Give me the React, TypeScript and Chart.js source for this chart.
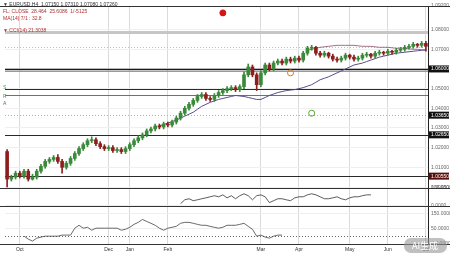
import React, { useEffect, useRef } from 'react';
import { Chart, registerables } from 'chart.js';
Chart.register(...registerables);

// ---- data (EURUSD H4) ----
const opens = [1.0180,1.0040,1.0050,1.0070,1.0055,1.0080,1.0040,1.0050,1.0080,1.0105,
 1.0130,1.0140,1.0150,1.0130,1.0100,1.0120,1.0145,1.0170,1.0195,1.0215,
 1.0235,1.0240,1.0220,1.0205,1.0195,1.0200,1.0185,1.0190,1.0180,1.0195,
 1.0215,1.0235,1.0250,1.0265,1.0285,1.0295,1.0310,1.0305,1.0320,1.0315,
 1.0330,1.0350,1.0375,1.0400,1.0420,1.0440,1.0460,1.0470,1.0450,1.0445,
 1.0465,1.0480,1.0490,1.0500,1.0505,1.0495,1.0510,1.0570,1.0610,1.0570,
 1.0520,1.0580,1.0620,1.0600,1.0630,1.0640,1.0630,1.0650,1.0640,1.0655,
 1.0645,1.0680,1.0705,1.0710,1.0680,1.0670,1.0680,1.0665,1.0650,1.0645,
 1.0655,1.0670,1.0660,1.0650,1.0655,1.0670,1.0675,1.0665,1.0680,1.0685,
 1.0680,1.0690,1.0685,1.0695,1.0700,1.0710,1.0715,1.0725,1.0720,1.0730];
const closes = [1.0040,1.0050,1.0070,1.0055,1.0080,1.0040,1.0050,1.0080,1.0105,1.0130,
 1.0140,1.0150,1.0130,1.0100,1.0120,1.0145,1.0170,1.0195,1.0215,1.0235,
 1.0240,1.0220,1.0205,1.0195,1.0200,1.0185,1.0190,1.0180,1.0195,1.0215,
 1.0235,1.0250,1.0265,1.0285,1.0295,1.0310,1.0305,1.0320,1.0315,1.0330,
 1.0350,1.0375,1.0400,1.0420,1.0440,1.0460,1.0470,1.0450,1.0445,1.0465,
 1.0480,1.0490,1.0500,1.0505,1.0495,1.0510,1.0570,1.0610,1.0570,1.0520,
 1.0580,1.0620,1.0600,1.0630,1.0640,1.0630,1.0650,1.0640,1.0655,1.0645,
 1.0680,1.0705,1.0710,1.0680,1.0670,1.0680,1.0665,1.0650,1.0645,1.0655,
 1.0670,1.0660,1.0650,1.0655,1.0670,1.0675,1.0665,1.0680,1.0685,1.0680,
 1.0690,1.0685,1.0695,1.0700,1.0710,1.0715,1.0725,1.0720,1.0730,1.0715];
const highs = [1.0190,1.0060,1.0080,1.0080,1.0090,1.0090,1.0065,1.0090,1.0115,1.0140,
 1.0150,1.0160,1.0165,1.0140,1.0130,1.0155,1.0180,1.0205,1.0225,1.0245,
 1.0255,1.0250,1.0230,1.0215,1.0210,1.0210,1.0200,1.0200,1.0205,1.0225,
 1.0245,1.0260,1.0275,1.0295,1.0305,1.0320,1.0320,1.0330,1.0330,1.0340,
 1.0360,1.0385,1.0410,1.0430,1.0450,1.0470,1.0480,1.0480,1.0460,1.0475,
 1.0490,1.0500,1.0510,1.0515,1.0515,1.0520,1.0585,1.0625,1.0620,1.0580,
 1.0590,1.0630,1.0630,1.0640,1.0650,1.0650,1.0660,1.0660,1.0665,1.0665,
 1.0690,1.0715,1.0720,1.0715,1.0690,1.0690,1.0685,1.0675,1.0660,1.0665,
 1.0680,1.0675,1.0670,1.0665,1.0680,1.0685,1.0680,1.0690,1.0695,1.0690,
 1.0700,1.0695,1.0705,1.0710,1.0720,1.0725,1.0735,1.0730,1.0740,1.0740];
const lows = [1.0000,1.0030,1.0040,1.0045,1.0045,1.0030,1.0035,1.0040,1.0070,1.0095,
 1.0120,1.0130,1.0120,1.0070,1.0090,1.0110,1.0135,1.0160,1.0185,1.0205,
 1.0225,1.0210,1.0195,1.0185,1.0185,1.0175,1.0175,1.0170,1.0170,1.0185,
 1.0205,1.0225,1.0240,1.0255,1.0275,1.0285,1.0295,1.0295,1.0305,1.0305,
 1.0320,1.0340,1.0365,1.0390,1.0410,1.0430,1.0450,1.0440,1.0435,1.0435,
 1.0455,1.0470,1.0480,1.0490,1.0485,1.0485,1.0500,1.0560,1.0560,1.0490,
 1.0510,1.0570,1.0590,1.0590,1.0620,1.0620,1.0620,1.0630,1.0630,1.0635,
 1.0635,1.0670,1.0695,1.0670,1.0660,1.0660,1.0655,1.0640,1.0635,1.0635,
 1.0645,1.0650,1.0640,1.0640,1.0645,1.0660,1.0655,1.0655,1.0670,1.0670,
 1.0670,1.0675,1.0675,1.0685,1.0690,1.0700,1.0705,1.0710,1.0710,1.0690];

const ma1Start = 36;
const ma1Values = [1.0310,1.03175,1.0325,1.03325,1.0340,1.0350,1.0360,1.0370,1.0380,1.0395,
 1.0410,1.0420,1.0430,1.04375,1.0445,1.0450,1.0455,1.0460,1.0465,1.04625,
 1.0460,1.0455,1.0450,1.0445,1.0445,1.0455,1.0465,1.04725,1.0480,1.0485,
 1.0490,1.04925,1.0495,1.0500,1.0505,1.05125,1.0520,1.05325,1.0545,1.05525,
 1.0560,1.0570,1.0580,1.0590,1.0600,1.0610,1.0620,1.0625,1.0630,1.06375,
 1.0645,1.06525,1.0660,1.0665,1.0670,1.0675,1.0680,1.06825,1.0685,1.06875,
 1.0690,1.06925,1.0695,1.06975];
const ma2Start = 71;
const ma2Values = [1.0695,1.0700,1.0705,1.0710,1.07125,1.0715,1.07175,1.0720,1.0720,1.0720,
 1.0720,1.0720,1.07175,1.0715,1.0715,1.0715,1.07125,1.0710,1.0710,1.0710,
 1.07075,1.0705,1.0705,1.0705,1.07025,1.0700,1.0700,1.06975,1.0695];

const osc1Start = 41;
const osc1Values = [11,33,39,28,33,39,44,50,56,50,
 61,44,56,39,56,67,56,33,56,61,
 50,17,28,39,39,33,28,44,50,50,
 61,67,61,50,39,39,44,50,39,33,
 44,50,50,56,61,61];
const osc2Start = 4;
const osc2Values = [1,-18,-31,-12,-5,1,1,1,1,8,
 8,8,53,72,53,59,40,53,53,53,
 53,53,53,40,46,59,78,91,110,97,
 85,72,53,40,53,59,65,85,91,91,
 85,78,72,72,65,59,53,59,72,72,
 72,78,85,65,46,1,8,-5,-12,1,
 8,8];

const tickIndex = [3, 24, 29, 38, 60, 69, 81, 90, 99];
const tickLabels = ['Oct', 'Dec', 'Jan', 'Feb', 'Mar', 'Apr', 'May', 'Jun', 'Jul'];

const levelPrices = [1.0790, 1.0710, 1.0600, 1.0590, 1.0500, 1.0465, 1.0365, 1.0265, 1.0055];
const boxedPrices = [1.0600, 1.0365, 1.0265, 1.0055];
const markerIndex = [51, 67, 72];
const markerPrices = [1.0885, 1.0580, 1.0375];

const legendLines = [
  '▼ EURUSD,H4  1.07150 1.07310 1.07080 1.07260',
  'FL: CLOSE  28.464  25.6086  1/-5125',
  'MA(14) 7/1 : 32.8',
  '▼ CCI(14) 21.3038',
];

// ---- styles ----
const BULL = '#3b8a3b';
const BEAR = '#8e1f1f';
const levelStyles = [
  { color: '#c6c6c6', width: 3, dash: [] as number[] },
  { color: '#bdbdbd', width: 1, dash: [1, 2] },
  { color: '#1a1a1a', width: 1.5, dash: [] },
  { color: '#9a9a9a', width: 1, dash: [] },
  { color: '#2a2a2a', width: 1.2, dash: [] },
  { color: '#707070', width: 1, dash: [] },
  { color: '#b0b0b0', width: 1, dash: [1, 2] },
  { color: '#2a2a2a', width: 1.2, dash: [] },
  { color: '#2a2a2a', width: 1.2, dash: [] },
];
const FONT = "'Liberation Sans', Arial, sans-serif";

const overlay = {
  id: 'overlay',
  beforeDatasetsDraw(chart: any) {
    const { ctx, chartArea: ca, scales } = chart;
    ctx.save();
    levelPrices.forEach((p, k) => {
      const st = levelStyles[k];
      const py = Math.round(scales.y.getPixelForValue(p)) + 0.5;
      ctx.strokeStyle = st.color;
      ctx.lineWidth = st.width;
      ctx.setLineDash(st.dash);
      ctx.beginPath();
      ctx.moveTo(ca.left, py);
      ctx.lineTo(ca.right, py);
      ctx.stroke();
    });
    // zero line of lower oscillator
    const zy = Math.round(scales.y2.getPixelForValue(0)) + 0.5;
    ctx.strokeStyle = '#666';
    ctx.lineWidth = 1;
    ctx.setLineDash([1, 2]);
    ctx.beginPath();
    ctx.moveTo(ca.left, zy);
    ctx.lineTo(ca.right, zy);
    ctx.stroke();
    ctx.restore();
  },
  afterDraw(chart: any) {
    const { ctx, chartArea: ca, scales, width } = chart;
    ctx.save();
    // pane borders
    ctx.strokeStyle = '#333';
    ctx.lineWidth = 1;
    ctx.setLineDash([]);
    [scales.y.top, scales.y.bottom, scales.y1.bottom, scales.y2.bottom].forEach((b: number) => {
      const yy = Math.round(b) + 0.5;
      ctx.beginPath();
      ctx.moveTo(0, yy);
      ctx.lineTo(width, yy);
      ctx.stroke();
    });
    // boxed price labels on axis
    ctx.font = `5px ${FONT}`;
    ctx.textBaseline = 'middle';
    boxedPrices.forEach((p, k) => {
      const py = scales.y.getPixelForValue(p);
      ctx.fillStyle = k === boxedPrices.length - 1 ? '#5a0f0f' : '#111';
      ctx.fillRect(ca.right + 1, py - 3.5, width - ca.right - 2, 7);
      ctx.fillStyle = '#fff';
      ctx.fillText(p.toFixed(5), ca.right + 3, py);
    });
    // legend text
    const ys = [5, 12, 19, 31];
    legendLines.forEach((t, k) => {
      ctx.fillStyle = k === 0 ? '#333' : '#b03030';
      ctx.fillText(t, 3, ys[k]);
    });
    // left markers
    ctx.fillStyle = '#4a9a4a';
    ctx.fillText('S', 3, 88);
    ctx.fillText('R', 3, 97);
    ctx.fillStyle = '#666';
    ctx.fillText('A', 3, 104);
    // watermark
    ctx.fillStyle = 'rgba(150,150,150,0.6)';
    ctx.beginPath();
    (ctx as any).roundRect(404, 238, 43, 15, 7);
    ctx.fill();
    ctx.fillStyle = '#ffffff';
    ctx.font = `9px 'Noto Sans CJK SC', sans-serif`;
    ctx.fillText('AI生成', 412, 245.5);
    ctx.restore();
  },
};

export default function App() {
  const ref = useRef<HTMLCanvasElement>(null);
  useEffect(() => {
    const canvas = ref.current!;
    const labels = closes.map((_, i) => String(i));
    const pad = (start: number, vals: number[]) =>
      labels.map((_, i) => (i >= start && i < start + vals.length ? vals[i - start] : null));
    const colors = closes.map((c, i) => (c >= opens[i] ? BULL : BEAR));
    const marker = (k: number) => labels.map((_, i) => (i === markerIndex[k] ? markerPrices[k] : null));
    Chart.defaults.font.family = FONT;
    const chart = new Chart(canvas, {
      type: 'bar',
      data: {
        labels,
        datasets: [
          { data: lows.map((l, i) => [l, highs[i]]), backgroundColor: colors, barThickness: 1, grouped: false, yAxisID: 'y' } as any,
          { data: opens.map((o, i) => [o, closes[i]]), backgroundColor: colors, barThickness: 3, grouped: false, yAxisID: 'y' } as any,
          { type: 'line', data: pad(ma1Start, ma1Values), borderColor: '#5b4a8a', borderWidth: 1, pointRadius: 0, yAxisID: 'y' },
          { type: 'line', data: pad(ma2Start, ma2Values), borderColor: '#8a4a6a', borderWidth: 0.8, pointRadius: 0, yAxisID: 'y' },
          { type: 'line', data: pad(osc1Start, osc1Values), borderColor: '#333', borderWidth: 0.8, pointRadius: 0, yAxisID: 'y1' },
          { type: 'line', data: pad(osc2Start, osc2Values), borderColor: '#444', borderWidth: 0.8, pointRadius: 0, yAxisID: 'y2' },
          { type: 'line', data: marker(0), showLine: false, pointRadius: 3, pointBackgroundColor: '#d01515', pointBorderColor: '#d01515', yAxisID: 'y' },
          { type: 'line', data: marker(1), showLine: false, pointRadius: 3, pointBackgroundColor: 'rgba(255,255,255,0)', pointBorderColor: '#d08030', pointBorderWidth: 1, yAxisID: 'y' },
          { type: 'line', data: marker(2), showLine: false, pointRadius: 3, pointBackgroundColor: 'rgba(255,255,255,0)', pointBorderColor: '#5aaa3a', pointBorderWidth: 1, yAxisID: 'y' },
        ] as any,
      },
      options: {
        responsive: false,
        animation: false,
        devicePixelRatio: 1,
        layout: { padding: { top: 2, left: 0, right: 0, bottom: 0 } },
        plugins: { legend: { display: false }, tooltip: { enabled: false } },
        scales: {
          x: {
            type: 'category',
            offset: true,
            grid: { offset: false, color: '#dadada', drawTicks: false },
            border: { display: true, color: '#333' },
            ticks: {
              autoSkip: false, maxRotation: 0, padding: 3, color: '#333', font: { size: 5 },
              callback: (_v: any, i: number) => tickLabels[i] ?? '',
            },
            afterBuildTicks: (s: any) => { s.ticks = tickIndex.map((v) => ({ value: v })); },
            afterFit: (s: any) => { s.height = 13; },
          },
          y: {
            position: 'right', stack: 'panes', stackWeight: 185, min: 0.9995, max: 1.092,
            grid: { color: '#efefef', drawTicks: false },
            border: { display: true, color: '#222' },
            ticks: { stepSize: 0.005, font: { size: 5 }, color: '#666', padding: 3, callback: (v: any) => Number(v).toFixed(5) },
            afterFit: (s: any) => { s.width = 22; },
          },
          y1: {
            position: 'right', stack: 'panes', stackWeight: 18, min: 0, max: 100,
            grid: { color: '#efefef', drawTicks: false },
            border: { display: true, color: '#222' },
            ticks: { stepSize: 50, font: { size: 5 }, color: '#666', padding: 3, callback: (v: any) => Number(v).toFixed(4) },
            afterFit: (s: any) => { s.width = 22; },
          },
          y2: {
            position: 'right', stack: 'panes', stackWeight: 39, min: -50, max: 200,
            grid: { color: '#efefef', drawTicks: false },
            border: { display: true, color: '#222' },
            ticks: { stepSize: 50, font: { size: 5 }, color: '#666', padding: 3, callback: (v: any) => Number(v).toFixed(4) },
            afterFit: (s: any) => { s.width = 22; },
          },
        } as any,
      },
      plugins: [overlay],
    });
    return () => chart.destroy();
  }, []);
  return (
    <div style={{ position: 'fixed', left: 0, top: 0, width: 450, height: 257, background: '#fff' }}>
      <canvas ref={ref} width={450} height={257} style={{ display: 'block' }} />
    </div>
  );
}
